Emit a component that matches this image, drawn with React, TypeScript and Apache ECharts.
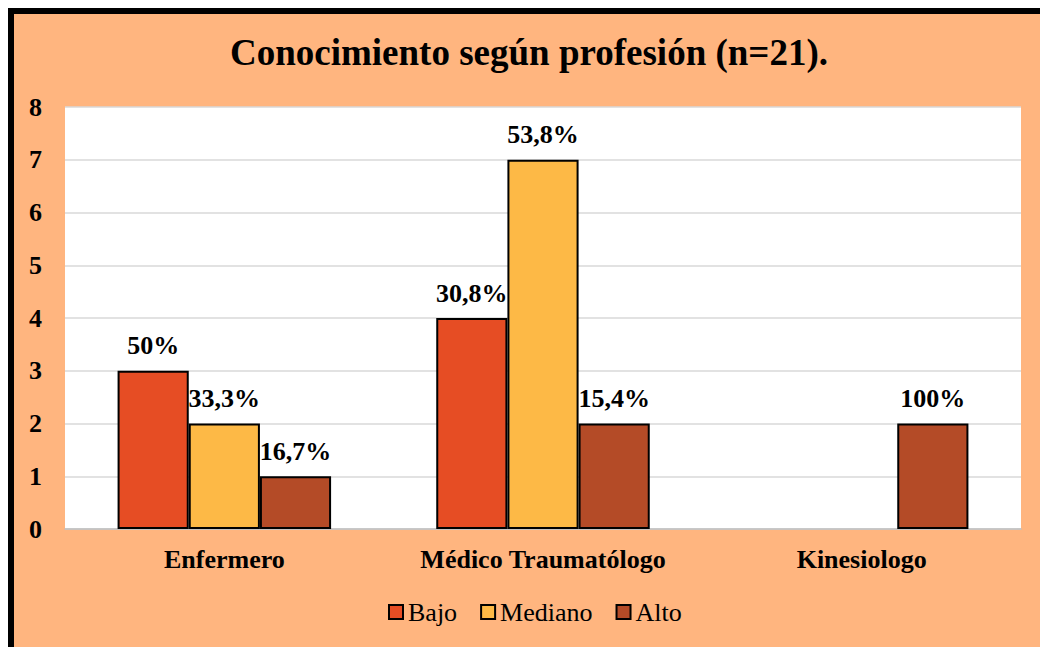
import React, { useEffect, useRef } from "react";
import * as echarts from "echarts";

const categories = ["Enfermero", "Médico Traumatólogo", "Kinesiologo"];
const seriesNames = ["Bajo", "Mediano", "Alto"];
const bajo: (number | null)[] = [3, 4, null];
const mediano: (number | null)[] = [2, 7, null];
const alto: (number | null)[] = [1, 2, 2];
const bajoLabels = ["50%", "30,8%", ""];
const medianoLabels = ["33,3%", "53,8%", ""];
const altoLabels = ["16,7%", "15,4%", "100%"];
const yTicks = { min: 0, max: 8, interval: 1 };
const colors = ["#E64D24", "#FDB946", "#B44B27"];
const titleText = "Conocimiento según profesión (n=21).";

const FONT = "Liberation Serif";

export default function App() {
  const ref = useRef<HTMLDivElement>(null);
  useEffect(() => {
    document.documentElement.style.overflow = "hidden";
    document.body.style.overflow = "hidden";
    if (!ref.current) return;
    const chart = echarts.init(ref.current, null, { renderer: "svg" });
    const values = [bajo, mediano, alto];
    const labels = [bajoLabels, medianoLabels, altoLabels];
    chart.setOption({
      animation: false,
      backgroundColor: "#FFB57F",
      title: {
        text: titleText,
        left: "center",
        top: 15,
        textStyle: { fontFamily: FONT, fontWeight: "bold", fontSize: 37, color: "#000" },
      },
      legend: {
        bottom: 18,
        left: 369,
        itemWidth: 14,
        itemHeight: 14,
        itemGap: 23,
        icon: "rect",
        textStyle: { fontFamily: FONT, fontSize: 26, color: "#000" },
        data: seriesNames,
      },
      grid: {
        left: 51,
        right: 23,
        top: 93,
        bottom: 119,
        show: true,
        backgroundColor: "#FFFFFF",
        borderWidth: 0,
      },
      xAxis: {
        type: "category",
        data: categories,
        axisLine: { show: true, lineStyle: { color: "#BFBFBF", width: 1.5 } },
        axisTick: { show: false },
        axisLabel: {
          interval: 0,
          hideOverlap: false,
          fontFamily: FONT,
          fontWeight: "bold",
          fontSize: 26,
          color: "#000",
          margin: 17,
        },
      },
      yAxis: {
        type: "value",
        min: yTicks.min,
        max: yTicks.max,
        interval: yTicks.interval,
        axisLine: { show: false },
        axisTick: { show: false },
        splitLine: { lineStyle: { color: "#D9D9D9", width: 1.5 } },
        axisLabel: {
          fontFamily: FONT,
          fontWeight: "bold",
          fontSize: 26,
          color: "#000",
          margin: 23,
        },
      },
      series: seriesNames.map((name, i) => ({
        name,
        type: "bar",
        data: values[i],
        barGap: "0%",
        barCategoryGap: "33%",
        itemStyle: { color: colors[i], borderColor: "#000", borderWidth: 2 },
        label: {
          show: true,
          position: "top",
          distance: 12,
          fontFamily: FONT,
          fontWeight: "bold",
          fontSize: 26,
          color: "#000",
          formatter: (p: any) => labels[i][p.dataIndex],
        },
      })),
    });
    return () => chart.dispose();
  }, []);
  return (
    <div
      style={{
        width: 1030,
        height: 634,
        borderLeft: "6px solid #000",
        borderTop: "6px solid #000",
        borderRight: "3px solid #000",
      }}
    >
      <div ref={ref} style={{ width: 1030, height: 634 }} />
    </div>
  );
}
